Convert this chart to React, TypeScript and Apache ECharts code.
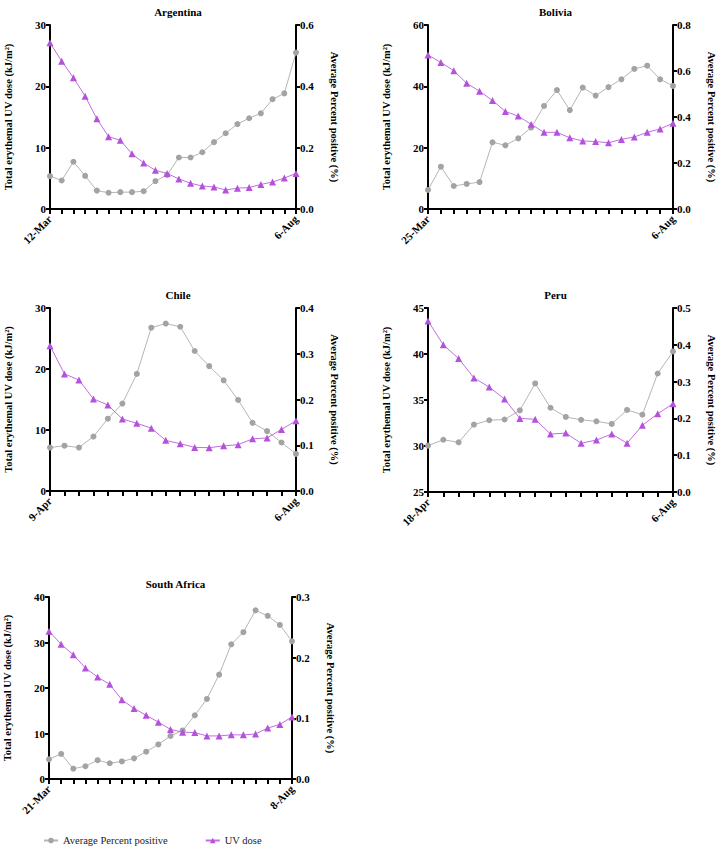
import React, { useEffect, useRef } from "react";
import * as echarts from "echarts";

const countries = ["Argentina", "Bolivia", "Chile", "Peru", "South Africa"];
const startLabels = ["12-Mar", "25-Mar", "9-Apr", "18-Apr", "21-Mar"];
const endLabels = ["6-Aug", "6-Aug", "6-Aug", "6-Aug", "8-Aug"];

const argUV = [27.1, 24.1, 21.4, 18.4, 14.7, 11.8, 11.2, 9.0, 7.5, 6.3, 5.8, 4.9, 4.2, 3.75, 3.6, 3.1, 3.4, 3.5, 4.0, 4.4, 5.05, 5.8];
const argPos = [0.107, 0.093, 0.154, 0.108, 0.06, 0.053, 0.055, 0.055, 0.058, 0.091, 0.111, 0.168, 0.168, 0.185, 0.218, 0.247, 0.277, 0.296, 0.312, 0.358, 0.377, 0.51];

const bolUV = [50.2, 47.8, 45.1, 41.0, 38.4, 35.4, 31.8, 30.3, 27.6, 25.0, 25.0, 23.2, 22.2, 22.0, 21.6, 22.7, 23.5, 25.0, 26.1, 28.0];
const bolPos = [0.083, 0.184, 0.1, 0.109, 0.117, 0.29, 0.277, 0.307, 0.354, 0.448, 0.517, 0.43, 0.528, 0.493, 0.53, 0.564, 0.609, 0.623, 0.564, 0.535];

const chiUV = [23.8, 19.2, 18.2, 15.1, 14.1, 11.8, 11.1, 10.3, 8.3, 7.75, 7.15, 7.1, 7.4, 7.6, 8.55, 8.7, 10.1, 11.5];
const chiPos = [0.095, 0.099, 0.095, 0.119, 0.158, 0.191, 0.256, 0.357, 0.366, 0.359, 0.306, 0.273, 0.242, 0.199, 0.149, 0.131, 0.106, 0.081];

const perUV = [43.6, 41.0, 39.5, 37.4, 36.4, 35.1, 33.0, 32.9, 31.3, 31.4, 30.3, 30.65, 31.3, 30.3, 32.25, 33.5, 34.6];
const perPos = [0.126, 0.142, 0.135, 0.183, 0.195, 0.197, 0.222, 0.295, 0.229, 0.204, 0.196, 0.192, 0.185, 0.223, 0.21, 0.322, 0.382];

const saUV = [32.5, 29.6, 27.3, 24.4, 22.4, 20.8, 17.4, 15.5, 14.0, 12.5, 10.9, 10.3, 10.2, 9.47, 9.47, 9.7, 9.7, 9.9, 11.2, 12.0, 13.65];
const saPos = [0.0325, 0.0413, 0.017, 0.021, 0.031, 0.026, 0.029, 0.034, 0.045, 0.057, 0.071, 0.08, 0.105, 0.132, 0.172, 0.222, 0.242, 0.278, 0.269, 0.254, 0.227];

const uvSeries = [argUV, bolUV, chiUV, perUV, saUV];
const posSeries = [argPos, bolPos, chiPos, perPos, saPos];

// axis ranges [min, max, interval]
const leftRanges = [[0, 30, 10], [0, 60, 20], [0, 30, 10], [25, 45, 5], [0, 40, 10]];
const rightRanges = [[0, 0.6, 0.2], [0, 0.8, 0.2], [0, 0.4, 0.1], [0, 0.5, 0.1], [0, 0.3, 0.1]];

const grids = [
  { left: 50, top: 25, width: 246, height: 184 },
  { left: 428, top: 25, width: 245, height: 184 },
  { left: 50, top: 308, width: 246, height: 183 },
  { left: 428, top: 308, width: 245, height: 184 },
  { left: 49, top: 597, width: 243, height: 182 },
];

const FONT = "Liberation Serif";
const GRAY = "#a3a3a3";
const GRAY_LINE = "#b5b5b5";
const PURPLE = "#b552dc";
const PURPLE_LINE = "#c06ee2";

export default function App() {
  const ref = useRef<HTMLDivElement>(null);
  useEffect(() => {
    if (!ref.current) return;
    const chart = echarts.init(ref.current, null, { renderer: "svg" });
    const xAxis: any[] = [];
    const yAxis: any[] = [];
    const series: any[] = [];
    const title: any[] = [];
    countries.forEach((c, i) => {
      const n = uvSeries[i].length;
      const cats = uvSeries[i].map((_, k) =>
        k === 0 ? startLabels[i] : k === n - 1 ? endLabels[i] : "w" + k
      );
      const g = grids[i];
      title.push({
        text: c,
        left: g.left + g.width / 2,
        top: g.top - 24,
        textAlign: "center",
        textStyle: { fontFamily: FONT, fontSize: 11, fontWeight: "bold", color: "#000" },
      });
      xAxis.push({
        type: "category",
        gridIndex: i,
        data: cats,
        boundaryGap: false,
        axisLine: { lineStyle: { color: "#000", width: 2 } },
        axisTick: { interval: 0, length: 5, lineStyle: { color: "#000", width: 2 } },
        axisLabel: {
          interval: (idx: number) => idx === 0 || idx === n - 1,
          rotate: 45,
          margin: 8,
          fontFamily: FONT,
          fontSize: 11,
          fontWeight: "bold",
          color: "#000",
        },
      });
      const lr = leftRanges[i];
      const rr = rightRanges[i];
      yAxis.push({
        type: "value",
        gridIndex: i,
        position: "left",
        min: lr[0],
        max: lr[1],
        interval: lr[2],
        name: "Total erythemal UV dose (kJ/m²)",
        nameLocation: "middle",
        nameGap: 36,
        nameTextStyle: { fontFamily: FONT, fontSize: 10.5, fontWeight: "bold", color: "#000" },
        splitLine: { show: false },
        axisLine: { show: true, onZero: false, lineStyle: { color: "#000", width: 2 } },
        axisTick: { show: true, length: 4, lineStyle: { color: "#000", width: 2 } },
        axisLabel: { fontFamily: FONT, fontSize: 11, fontWeight: "bold", color: "#000", margin: 4 },
      });
      yAxis.push({
        type: "value",
        gridIndex: i,
        position: "right",
        min: rr[0],
        max: rr[1],
        interval: rr[2],
        name: "Average Percent positive (%)",
        nameLocation: "middle",
        nameRotate: -90,
        nameGap: 33,
        nameTextStyle: { fontFamily: FONT, fontSize: 10.5, fontWeight: "bold", color: "#000" },
        splitLine: { show: false },
        axisLine: { show: true, onZero: false, lineStyle: { color: "#000", width: 2 } },
        axisTick: { show: true, length: 4, lineStyle: { color: "#000", width: 2 } },
        axisLabel: {
          fontFamily: FONT,
          fontSize: 11,
          fontWeight: "bold",
          color: "#000",
          margin: 4,
          formatter: (v: number) => v.toFixed(1),
        },
      });
      series.push({
        name: "Average Percent positive",
        type: "line",
        xAxisIndex: i,
        yAxisIndex: 2 * i + 1,
        data: posSeries[i],
        symbol: "circle",
        symbolSize: 6,
        lineStyle: { color: GRAY_LINE, width: 1 },
        itemStyle: { color: GRAY },
        z: 2,
      });
      series.push({
        name: "UV dose",
        type: "line",
        xAxisIndex: i,
        yAxisIndex: 2 * i,
        data: uvSeries[i],
        symbol: "triangle",
        symbolSize: 7,
        lineStyle: { color: PURPLE_LINE, width: 1 },
        itemStyle: { color: PURPLE },
        z: 3,
      });
    });
    chart.setOption({
      animation: false,
      backgroundColor: "#fff",
      title,
      grid: grids.map((g) => ({ ...g, containLabel: false })),
      xAxis,
      yAxis,
      series,
      legend: {
        left: 43,
        top: 835,
        padding: 0,
        itemWidth: 14,
        itemHeight: 7,
        itemGap: 37,
        textStyle: { fontFamily: FONT, fontSize: 10.5, color: "#222" },
        data: ["Average Percent positive", "UV dose"],
      },
    });
    return () => chart.dispose();
  }, []);
  return (
    <div
      ref={ref}
      style={{ position: "fixed", left: 0, top: 0, width: 720, height: 848, background: "#fff" }}
    />
  );
}
